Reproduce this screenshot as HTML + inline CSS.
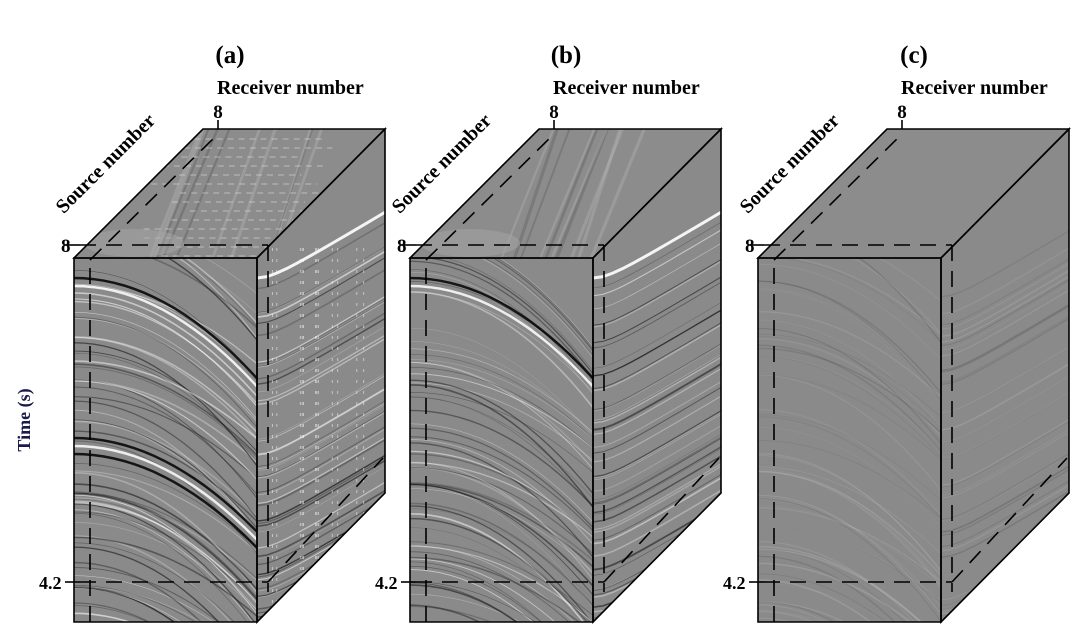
<!DOCTYPE html>
<html><head><meta charset="utf-8">
<style>
html,body{margin:0;padding:0;background:#fff;overflow:hidden;width:1072px;height:625px;}
svg{display:block;}
text{font-family:"Liberation Serif",serif;font-weight:bold;fill:#000;}
</style></head>
<body>
<svg id="s" width="1072" height="625" viewBox="0 0 1072 625" xmlns="http://www.w3.org/2000/svg">
<defs></defs>
<g id="root"></g>
<text x="30" y="420" transform="rotate(-90 30 420)" text-anchor="middle" font-size="18" style="fill:#1a1a4a">Time (s)</text>
</svg>
<script>
(function(){
var NS="http://www.w3.org/2000/svg";
var svg=document.getElementById('s'),defs=svg.querySelector('defs'),root=document.getElementById('root');
function el(t,a,p){var e=document.createElementNS(NS,t);for(var k in a)e.setAttribute(k,a[k]);(p||root).appendChild(e);return e;}
var seed=7;function rnd(){seed=(seed*16807)%2147483647;return seed/2147483647;}
var offs=[0,336,684],labels=['(a)','(b)','(c)'];
offs.forEach(function(o,idx){
  var L=74+o,R=257+o,T=258,B=622,BL=203+o,BR=385+o,BT=129,dx=128;
  var front=L+','+T+' '+R+','+T+' '+R+','+B+' '+L+','+B;
  var top=L+','+T+' '+BL+','+BT+' '+BR+','+BT+' '+R+','+T;
  var right=R+','+T+' '+BR+','+BT+' '+BR+','+(B-dx-1)+' '+R+','+B;
  ['f','t','r'].forEach(function(n){
    var cp=el('clipPath',{id:'c'+n+idx},defs);
    el('polygon',{points:n=='f'?front:n=='t'?top:right},cp);
  });
  var base='#8a8a8a';
  el('polygon',{points:front,fill:base});
  el('polygon',{points:top,fill:'#8c8c8c'});
  el('polygon',{points:right,fill:base});
  var amp=idx==0?0.8:idx==1?0.7:0.18;
  var gf=el('g',{'clip-path':'url(#cf'+idx+')'});
  var n=idx==2?60:70;
  for(var i=0;i<n;i++){
    var y0=T-40+rnd()*400, k=0.0022+rnd()*0.0015;
    if(idx==1 && y0<T+20){k=0.0035;}
    var d='M'+(L-5)+' '+y0;
    for(var x=0;x<=190;x+=10){d+=' L'+(L+x)+' '+(y0+k*x*x).toFixed(1);}
    var c=rnd()<0.5?'#fff':'#111';
    el('path',{d:d,stroke:c,'stroke-width':(0.5+rnd()*1.2).toFixed(1),fill:'none',opacity:(amp*(0.25+rnd()*0.5)).toFixed(2)},gf);
  }
  if(idx<2){
    [[T+20,0.0030],[T+28,0.0030],[T+180,0.0028],[T+188,0.0028],[T+196,0.0028]].forEach(function(q,j){
      if(idx==1 && j>1) return;
      var d='M'+(L-5)+' '+q[0];
      for(var x=0;x<=190;x+=10){d+=' L'+(L+x)+' '+(q[0]+q[1]*x*x).toFixed(1);}
      el('path',{d:d,stroke:j%2?'#fff':'#000','stroke-width':2.5,fill:'none',opacity:0.85},gf);
    });
  }
  var gr=el('g',{'clip-path':'url(#cr'+idx+')'});
  for(var i=0;i<(idx==2?50:60);i++){
    var y0=T-10+rnd()*380;
    var d='M'+R+' '+(y0+40);
    for(var x=0;x<=130;x+=10){d+=' L'+(R+x)+' '+(y0+40-Math.sqrt(x*x+400)*0.6+12).toFixed(1);}
    var c=rnd()<0.5?'#fff':'#111';
    el('path',{d:d,stroke:c,'stroke-width':(0.5+rnd()*1.2).toFixed(1),fill:'none',opacity:(amp*(0.25+rnd()*0.5)).toFixed(2)},gr);
  }
  if(idx<2){
    var y0=T-20;var d='M'+R+' '+(y0+40);
    for(var x=0;x<=130;x+=10){d+=' L'+(R+x)+' '+(y0+40-Math.sqrt(x*x+400)*0.6+12).toFixed(1);}
    el('path',{d:d,stroke:'#fff','stroke-width':3,fill:'none',opacity:0.9},gr);
  }
  if(idx==0){
    for(var i=0;i<12;i++){var x=R+10+rnd()*115;
      el('line',{x1:x,y1:T-10,x2:x,y2:B,stroke:'#fff','stroke-width':1,'stroke-dasharray':'3 8',opacity:0.5},gr);}
  }
  var gt=el('g',{'clip-path':'url(#ct'+idx+')'});
  for(var i=0;i<(idx==2?0:10);i++){
    var x=L+120+rnd()*130;
    el('line',{x1:x,y1:BT,x2:x-55+rnd()*15,y2:T,stroke:rnd()<0.5?'#bbb':'#555','stroke-width':1.5+rnd()*2,opacity:amp*0.45},gt);
  }
  if(idx==0){
    for(var i=0;i<14;i++){var y=BT+10+i*9;
      el('line',{x1:L+60+rnd()*60,y1:y,x2:R+40+rnd()*50,y2:y,stroke:'#eee','stroke-width':1,'stroke-dasharray':'6 5',opacity:0.5},gt);}
  }
  if(idx<2){ el('ellipse',{cx:L+60,cy:T-15,rx:50,ry:14,fill:'#a5a5a5',opacity:0.5},gt); }
  [front,top,right].forEach(function(p){el('polygon',{points:p,fill:'none',stroke:'#000','stroke-width':1.6});});
  var ds={stroke:'#000','stroke-width':1.6,'stroke-dasharray':'16 10',fill:'none'};
  function dl(a,b,c,d){var o2=Object.assign({x1:a,y1:b,x2:c,y2:d},ds);el('line',o2);}
  dl(L+6,245,R+11,245);
  dl(L+16,B,L+16,T+4);
  dl(L+16,T+2,218+o,BT+5);
  dl(R+11,245,R+11,592);
  dl(L+6,582,R+11,582);
  dl(R+11,582,BR-2,458);
  el('line',{x1:218+o,y1:BT,x2:218+o,y2:BT-9,stroke:'#000','stroke-width':1.6});
  el('line',{x1:L-9,y1:245,x2:L+6,y2:245,stroke:'#000','stroke-width':1.6});
  el('line',{x1:L-9,y1:582,x2:L+6,y2:582,stroke:'#000','stroke-width':1.6});
  var t;
  t=el('text',{x:230+o,y:63,'text-anchor':'middle','font-size':25});t.textContent=labels[idx];
  t=el('text',{x:217+o,y:94,'font-size':20});t.textContent='Receiver number';
  t=el('text',{x:218+o,y:118,'text-anchor':'middle','font-size':19});t.textContent='8';
  t=el('text',{x:61+o,y:252,'font-size':19});t.textContent='8';
  t=el('text',{x:39+o,y:589,'font-size':18});t.textContent='4.2';
  t=el('text',{x:110+o,y:168,'text-anchor':'middle','font-size':20});
  t.setAttribute('transform','rotate(-45 '+(110+o)+' 168)');
  t.textContent='Source number';
});
})();
</script>
</body></html>
